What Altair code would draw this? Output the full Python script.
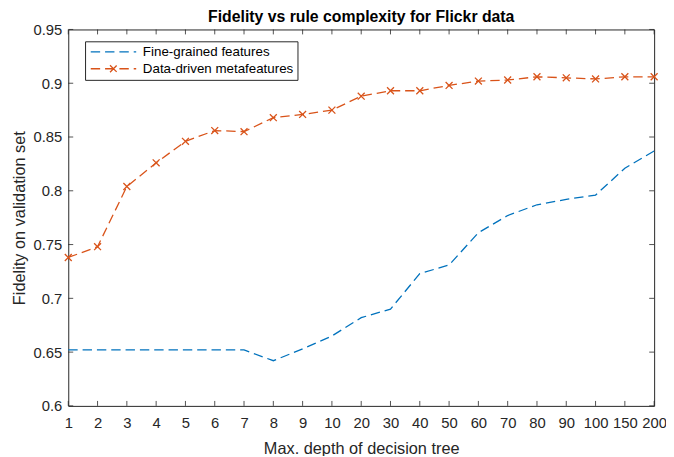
import altair as alt
import pandas as pd

depth_labels = ["1", "2", "3", "4", "5", "6", "7", "8", "9", "10",
                "20", "30", "40", "50", "60", "70", "80", "90", "100", "150", "200"]
fine_grained = [0.652, 0.652, 0.652, 0.652, 0.652, 0.652, 0.652, 0.642, 0.653, 0.665,
                0.682, 0.690, 0.723, 0.731, 0.761, 0.777, 0.787, 0.792, 0.796, 0.821, 0.837]
data_driven = [0.738, 0.748, 0.804, 0.826, 0.846, 0.856, 0.855, 0.868, 0.871, 0.875,
               0.888, 0.893, 0.893, 0.898, 0.902, 0.903, 0.906, 0.905, 0.904, 0.906, 0.906]
series_names = ["Fine-grained features", "Data-driven metafeatures"]
series_colors = ["#0072BD", "#D95319"]
y_ticks = [0.6, 0.65, 0.7, 0.75, 0.8, 0.85, 0.9, 0.95]

W, H = 593, 381
FONT = "Liberation Sans"
INK = "#262626"

rows = []
for name, vals in zip(series_names, [fine_grained, data_driven]):
    for d, v in zip(depth_labels, vals):
        rows.append({"series": name, "depth": d, "value": v})
df = pd.DataFrame(rows)
df_meta = df[df["series"] == series_names[1]]
xt = pd.DataFrame({"depth": depth_labels})
yt = pd.DataFrame({"value": y_ticks})

xscale = alt.Scale(type="point", padding=0, domain=depth_labels)
yscale = alt.Scale(domain=[0.6, 0.95], nice=False, zero=False)
xaxis = alt.Axis(title="Max. depth of decision tree", labelAngle=0, ticks=False,
                 tickSize=0, domain=False, grid=False, labelPadding=10, titlePadding=10)
yaxis = alt.Axis(title="Fidelity on validation set", values=y_ticks, format=".2~f",
                 ticks=False, tickSize=0, domain=False, grid=False,
                 labelPadding=6.5, titlePadding=6)

def X():
    return alt.X("depth:O", scale=xscale, sort=depth_labels, axis=xaxis)

def Y():
    return alt.Y("value:Q", scale=yscale, axis=yaxis)

# legend symbol: size 100 -> unit = 5px; line 46px long starting at the entry's left edge
shape_expr = ("datum.value === 'Data-driven metafeatures' ? "
              "'M-1,0H8.2M2.9,-0.7L4.3,0.7M2.9,0.7L4.3,-0.7' : 'M-1,0H8.2'")
legend = alt.Legend(
    title=None, orient="none", legendX=17, legendY=12, direction="vertical",
    strokeColor=INK, fillColor="white", padding=4,
    symbolType={"expr": shape_expr}, symbolSize=100, symbolStrokeWidth=1.3,
    symbolDash=[9.5, 5], labelFontSize=13.5, labelFont=FONT, labelColor="#000000",
    labelOffset=41, rowPadding=2,
)

lines = alt.Chart(df).mark_line(strokeDash=[9.5, 5], strokeWidth=1.3).encode(
    x=X(), y=Y(),
    color=alt.Color("series:N", scale=alt.Scale(domain=series_names, range=series_colors),
                    sort=series_names, legend=legend),
    detail="series:N",
)

points = alt.Chart(df_meta).mark_point(
    shape="M-1,-1L1,1M-1,1L1,-1", size=49, filled=False, strokeWidth=1.3,
    color=series_colors[1], opacity=1,
).encode(x=X(), y=Y())

tick_len = 5
xb = alt.Chart(xt).mark_rule(color=INK, strokeWidth=0.8).encode(
    x=X(), y=alt.value(H), y2=alt.value(H - tick_len))
xtop = alt.Chart(xt).mark_rule(color=INK, strokeWidth=0.8).encode(
    x=X(), y=alt.value(0), y2=alt.value(tick_len))
yl = alt.Chart(yt).mark_rule(color=INK, strokeWidth=0.8).encode(
    y=Y(), x=alt.value(0), x2=alt.value(tick_len))
yr = alt.Chart(yt).mark_rule(color=INK, strokeWidth=0.8).encode(
    y=Y(), x=alt.value(W), x2=alt.value(W - tick_len))

chart = alt.layer(lines, points, xb, xtop, yl, yr).properties(
    width=W, height=H,
    background="white",
    title=alt.TitleParams("Fidelity vs rule complexity for Flickr data", font=FONT,
                          fontSize=16, fontWeight="bold", color="#000000", offset=3, dy=5),
    autosize=alt.AutoSizeParams(type="none"),
    padding={"left": 61, "top": 19, "right": 12, "bottom": 48},
).configure_view(stroke=INK, strokeWidth=1).configure_axis(
    labelFont=FONT, titleFont=FONT, labelFontSize=15, titleFontSize=16.5,
    labelColor=INK, titleColor=INK, titleFontWeight="normal",
)

chart.save("out.html", embed_options={"renderer": "svg", "actions": False})
